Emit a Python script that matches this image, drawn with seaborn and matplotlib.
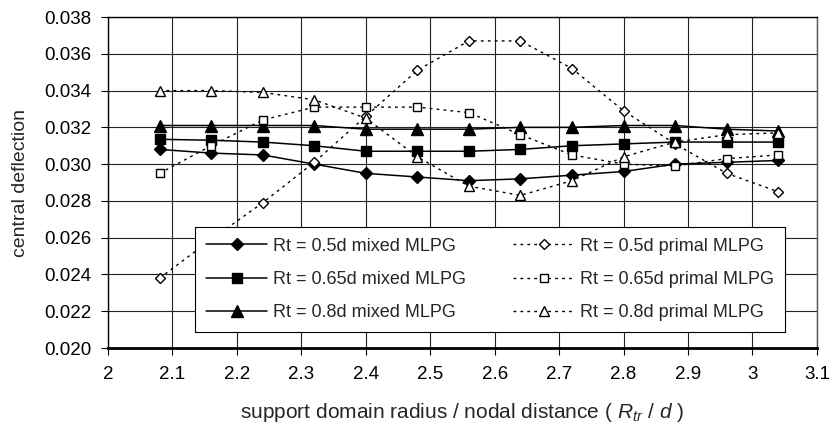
import matplotlib
matplotlib.use("Agg")
import matplotlib.pyplot as plt
import pandas as pd
import seaborn as sns

# support domain radius / nodal distance
ratio = [2.08, 2.16, 2.24, 2.32, 2.40, 2.48, 2.56, 2.64, 2.72, 2.80, 2.88, 2.96, 3.04]

mixed_05 = [0.0308, 0.0306, 0.0305, 0.0300, 0.0295, 0.0293, 0.0291, 0.0292, 0.0294, 0.0296, 0.0300, 0.0301, 0.0302]
mixed_065 = [0.03135, 0.0313, 0.0312, 0.0310, 0.0307, 0.0307, 0.0307, 0.0308, 0.0310, 0.0311, 0.0312, 0.0312, 0.0312]
mixed_08 = [0.0321, 0.0321, 0.0321, 0.0321, 0.0319, 0.0319, 0.0319, 0.0320, 0.0320, 0.0321, 0.0321, 0.0319, 0.0318]
primal_05 = [0.0238, 0.0259, 0.0279, 0.0301, 0.0326, 0.0351, 0.0367, 0.0367, 0.0352, 0.0329, 0.0311, 0.0295, 0.0285]
primal_065 = [0.0295, 0.0310, 0.0324, 0.0331, 0.0331, 0.0331, 0.0328, 0.0316, 0.0305, 0.0300, 0.0299, 0.0303, 0.0305]
primal_08 = [0.0340, 0.0340, 0.0339, 0.0335, 0.0325, 0.0304, 0.0288, 0.0283, 0.0291, 0.0304, 0.0312, 0.0316, 0.0317]

series_names = ["Rt = 0.5d mixed MLPG", "Rt = 0.65d mixed MLPG", "Rt = 0.8d mixed MLPG",
                "Rt = 0.5d primal MLPG", "Rt = 0.65d primal MLPG", "Rt = 0.8d primal MLPG"]
series_values = [mixed_05, mixed_065, mixed_08, primal_05, primal_065, primal_08]

x_ticks = [2.0, 2.1, 2.2, 2.3, 2.4, 2.5, 2.6, 2.7, 2.8, 2.9, 3.0, 3.1]
x_ticklabels = ["2", "2.1", "2.2", "2.3", "2.4", "2.5", "2.6", "2.7", "2.8", "2.9", "3", "3.1"]
y_ticks = [0.020, 0.022, 0.024, 0.026, 0.028, 0.030, 0.032, 0.034, 0.036, 0.038]

dotted = (0, (2, 3))
styles = [
    dict(marker="D", markersize=6, markerfacecolor="black", linestyle="-", linewidth=1.1),
    dict(marker="s", markersize=6.5, markerfacecolor="black", linestyle="-", linewidth=1.1),
    dict(marker="^", markersize=8, markerfacecolor="black", linestyle="-", linewidth=1.1),
    dict(marker="D", markersize=5.5, markerfacecolor="white", linestyle=dotted, linewidth=1.0),
    dict(marker="s", markersize=5.5, markerfacecolor="white", linestyle=dotted, linewidth=1.0),
    dict(marker="^", markersize=7, markerfacecolor="white", linestyle=dotted, linewidth=1.0),
]


def draw():
    sns.set_style("white")
    plt.rcParams["font.family"] = ["Liberation Sans", "DejaVu Sans"]
    plt.rcParams["mathtext.fontset"] = "custom"
    plt.rcParams["mathtext.it"] = "Liberation Sans:italic"
    plt.rcParams["mathtext.rm"] = "Liberation Sans"

    fig, ax = plt.subplots(figsize=(8.31, 4.32), dpi=100)
    fig.subplots_adjust(left=0.130, right=0.983, bottom=0.1944, top=0.9606)

    for name, vals, st in zip(series_names, series_values, styles):
        df = pd.DataFrame({"ratio": ratio, "deflection": vals})
        sns.lineplot(data=df, x="ratio", y="deflection", ax=ax, color="black",
                     markeredgecolor="black", markeredgewidth=1.0, label=name, **st)

    ax.set_xlim(2.0, 3.1)
    ax.set_ylim(0.020, 0.038)
    ax.set_xticks(x_ticks)
    ax.set_xticklabels(x_ticklabels)
    ax.set_yticks(y_ticks)
    ax.set_yticklabels(["%.3f" % v for v in y_ticks])
    ax.tick_params(axis="both", direction="out", length=5, width=0.8, color="black",
                   labelsize=13.5, labelcolor="black")
    ax.tick_params(axis="x", pad=8)
    ax.tick_params(axis="y", pad=7)
    ax.tick_params(left=True, bottom=True)

    ax.grid(True, color="#222222", linewidth=0.8)
    ax.set_axisbelow(True)
    for side in ["top", "left"]:
        ax.spines[side].set_color("black")
        ax.spines[side].set_linewidth(1.0)
    ax.spines["right"].set_color("#555555")
    ax.spines["right"].set_linewidth(1.0)
    ax.spines["bottom"].set_color("black")
    ax.spines["bottom"].set_linewidth(2.0)

    ax.set_ylabel("central deflection", fontsize=14, labelpad=11)
    ax.set_xlabel(r"support domain radius / nodal distance ( $R_{tr}$ / $d$ )", fontsize=15, labelpad=13)

    handles, labels = ax.get_legend_handles_labels()
    leg = ax.legend(handles, labels, ncol=2, loc="lower left",
                    bbox_to_anchor=(0.1227, 0.048, 0.8322, 0.33), mode="expand",
                    frameon=True, fancybox=False, edgecolor="black", framealpha=1,
                    fontsize=13, handlelength=3.4, handletextpad=0.3, labelspacing=0.9,
                    columnspacing=1.7, borderpad=0.6, borderaxespad=0)
    leg.get_frame().set_linewidth(0.8)

    plt.savefig("out.png", dpi=100)


if __name__ == "__main__":
    draw()
